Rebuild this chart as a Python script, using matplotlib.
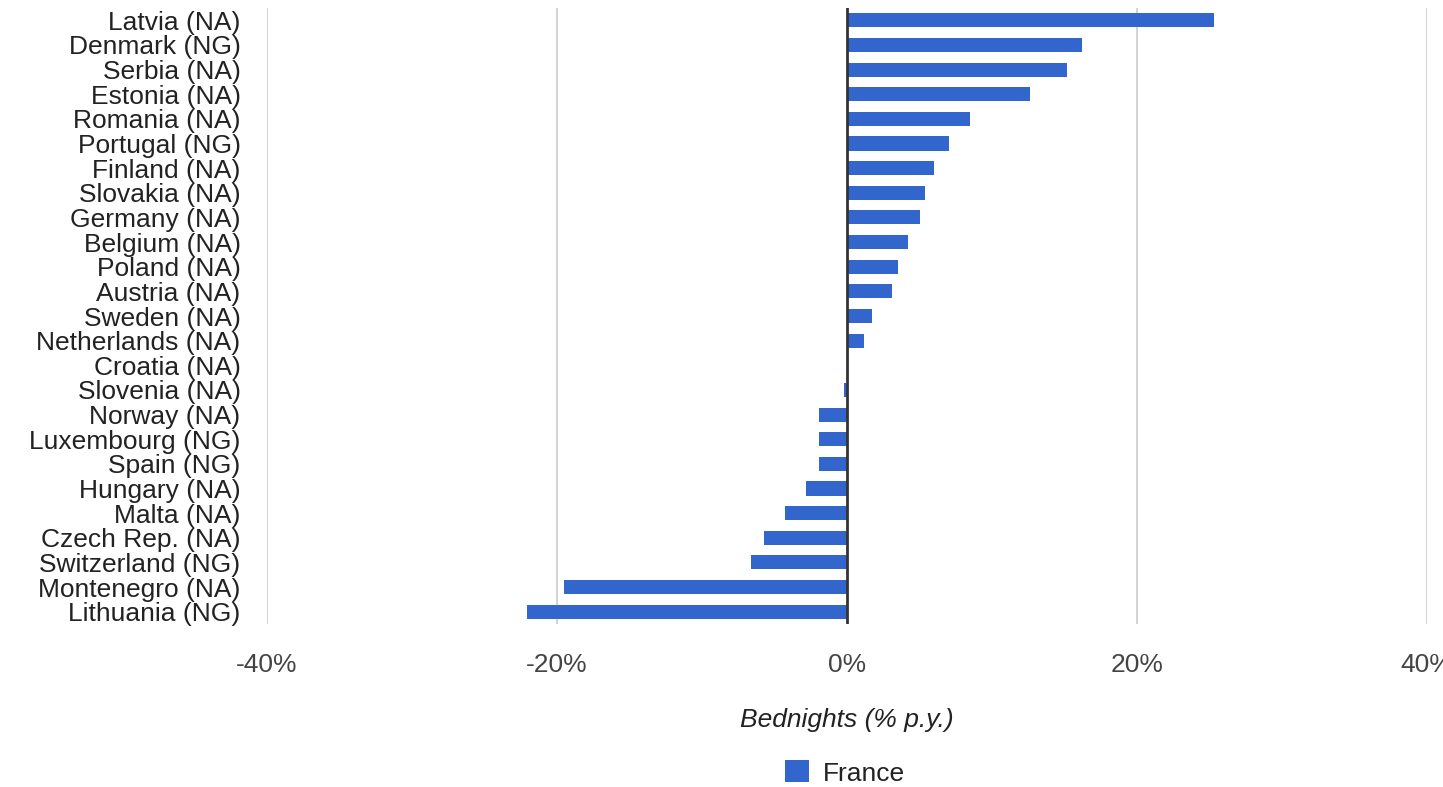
import matplotlib.pyplot as plt
from matplotlib.patches import Patch

plt.rcParams['font.family'] = ['Liberation Sans', 'DejaVu Sans']

countries = ['Latvia (NA)', 'Denmark (NG)', 'Serbia (NA)', 'Estonia (NA)', 'Romania (NA)',
             'Portugal (NG)', 'Finland (NA)', 'Slovakia (NA)', 'Germany (NA)', 'Belgium (NA)',
             'Poland (NA)', 'Austria (NA)', 'Sweden (NA)', 'Netherlands (NA)', 'Croatia (NA)',
             'Slovenia (NA)', 'Norway (NA)', 'Luxembourg (NG)', 'Spain (NG)', 'Hungary (NA)',
             'Malta (NA)', 'Czech Rep. (NA)', 'Switzerland (NG)', 'Montenegro (NA)', 'Lithuania (NG)']
france = [25.3, 16.2, 15.2, 12.6, 8.5,
          7.0, 6.0, 5.4, 5.0, 4.2,
          3.5, 3.1, 1.7, 1.2, 0.0,
          -0.2, -1.9, -1.9, -1.9, -2.8,
          -4.3, -5.7, -6.6, -19.5, -22.1]
xticks = [-40, -20, 0, 20, 40]

blue = '#3366cc'

fig = plt.figure(figsize=(14.43, 7.87), dpi=100)
ax = fig.add_axes([267 / 1443, (787 - 624) / 787, 1160 / 1443, 616 / 787])

ypos = list(range(len(countries)))
ax.barh(ypos, france, height=0.57, color=blue, zorder=3)
ax.set_ylim(len(countries) - 0.5, -0.5)
ax.set_xlim(-40, 40)

ax.set_yticks(ypos)
ax.set_yticklabels(countries, fontsize=19, color='#222222')
ax.set_xticks(xticks)
ax.set_xticklabels([f'{t}%' for t in xticks], fontsize=19, color='#444444')
ax.tick_params(axis='y', length=0, pad=19)
ax.tick_params(axis='x', length=0, pad=21)

for t in xticks:
    if t == 0:
        ax.axvline(t, color='#333333', lw=2, zorder=4)
    else:
        ax.axvline(t, color='#cccccc', lw=1.2, zorder=1)

for s in ax.spines.values():
    s.set_visible(False)

ax.set_xlabel('Bednights (% p.y.)', fontsize=19, style='italic', color='#222222', labelpad=22)

fig.legend(handles=[Patch(facecolor=blue, label='France')], loc='center',
           bbox_to_anchor=(845 / 1443, 1 - 773 / 787), frameon=False, fontsize=19,
           handlelength=0.9, handleheight=0.9, handletextpad=0.5, labelcolor='#222222')

fig.savefig('out.png', dpi=100)
